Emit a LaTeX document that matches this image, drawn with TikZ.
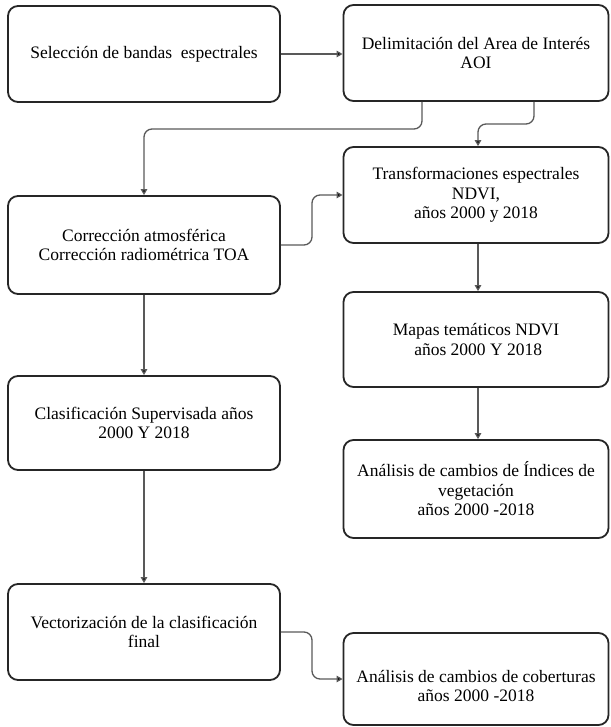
\documentclass[tikz,border=0pt]{standalone}
\usepackage{fontspec}
\setmainfont{Liberation Serif}
\usetikzlibrary{arrows.meta}
\tikzset{
  boxtext/.style={align=center, inner sep=0pt, font=\fontsize{17.5}{19.5}\selectfont},
  box/.style={boxtext, draw=black!85, line width=1.8pt, rounded corners=10pt, fill=white},
  lbox/.style={box, minimum width=272pt},
  rbox/.style={box, minimum width=265pt},
  conn/.style={draw=black!65, line width=1.3pt, rounded corners=8pt,
    -{Triangle[length=6pt,width=6.5pt,fill=black]}},
}
\begin{document}
\begin{tikzpicture}[x=1pt,y=-1pt]
\useasboundingbox (0,0) rectangle (610,727);
\node[lbox, minimum height=96pt] (b1) at (144,54) {Selección de bandas~ espectrales};
\node[rbox, minimum height=96pt] (b2) at (476,53) {Delimitación del Area de Interés\\AOI};
\node[lbox, minimum height=98pt] (b3) at (144,245) {Corrección atmosférica\\Corrección radiométrica TOA};
\node[rbox, minimum height=96pt] (b4) at (476,195) {Transformaciones espectrales\\NDVI,\\años 2000 y 2018};
\node[rbox, minimum height=95pt] (b5) at (476,339.5) {Mapas temáticos NDVI\\\ años 2000 Y 2018};
\node[rbox, minimum height=98pt] (b6) at (476,489) {Análisis de cambios de Índices de\\vegetación\\años 2000 -2018};
\node[lbox, minimum height=94pt] (b7) at (144,423) {Clasificación Supervisada años\\2000 Y 2018};
\node[lbox, minimum height=96pt] (b8) at (144,632) {Vectorización de la clasificación\\final};
\node[rbox, minimum height=92pt] (b9) at (476,679) {};
\node[boxtext] (b9t) at (476,686) {Análisis de cambios de coberturas\\años 2000 -2018};

\draw[conn] (b1.east) -- (b1.east -| b2.west);
\draw[conn] ([xshift=-54pt]b2.south) |- (b3.north |- 0,129) -- (b3.north);
\draw[conn] ([xshift=58pt]b2.south) |- ([xshift=2pt]b4.north |- 0,124) -- ([xshift=2pt]b4.north);
\draw[conn] (b3.east) -- (b3.east -| 312,0) |- (b4.west);
\draw[conn] ([xshift=2pt]b4.south) -- ([xshift=2pt]b5.north);
\draw[conn] ([xshift=2pt]b5.south) -- ([xshift=2pt]b6.north);
\draw[conn] (b3.south) -- (b7.north);
\draw[conn] (b7.south) -- (b8.north);
\draw[conn] (b8.east) -- (b8.east -| 312,0) |- (b9.west);
\end{tikzpicture}
\end{document}
